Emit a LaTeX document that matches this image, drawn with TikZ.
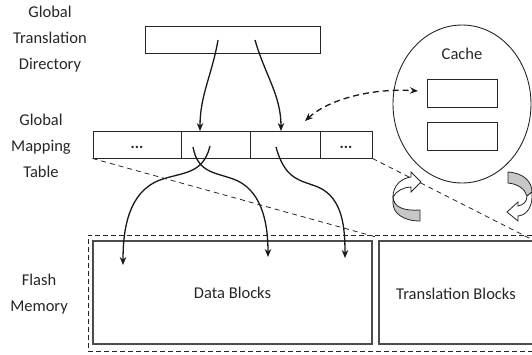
\documentclass[tikz,border=0pt]{standalone}
\usepackage{fontspec}
\setmainfont{Carlito}
\usetikzlibrary{arrows.meta,calc,shapes.geometric}
\begin{document}
\begin{tikzpicture}[x=1pt,y=-1pt,
  box/.style={draw=black!85,line width=0.9pt,inner sep=0pt},
  lbl/.style={align=center,font=\fontsize{16.5}{26}\selectfont,text=black!85},
  dots/.style={font=\bfseries\fontsize{16}{16}\selectfont,text=black!85},
  conn/.style={line width=1.3pt,black!90,-{Stealth[length=8pt,width=6.5pt]}},
  thindash/.style={line width=0.8pt,dash pattern=on 5pt off 4pt,black!85},
  ribbon/.style={draw=black!85,line width=0.8pt,fill=black!22},
  ribbonw/.style={draw=black!85,line width=0.8pt,fill=white}]
\clip (0,0) rectangle (532,354);
\useasboundingbox (0,0) rectangle (532,354);
% labels
\node[lbl] (l1) at (50,39) {Global\\Translation\\Directory};
\node[lbl] (l2) at (41,146) {Global\\Mapping\\Table};
\node[lbl] (l3) at (39,294.5) {Flash\\Memory};
% GTD
\node[box,minimum width=175pt,minimum height=27pt] (gtd) at (232.5,39.5) {};
% GMT cells
\node[box,minimum width=88pt,minimum height=27pt] (c1) at (137,144.5) {};
\node[box,minimum width=69pt,minimum height=27pt] (c2) at (215.5,144.5) {};
\node[box,minimum width=70pt,minimum height=27pt] (c3) at (285,144.5) {};
\node[box,minimum width=52pt,minimum height=27pt] (c4) at (346,144.5) {};
\node[dots] (d1) at ([yshift=-3pt]c1.center) {...};
\node[dots] (d4) at ([yshift=-3pt]c4.center) {...};
% cache
\node[draw=black!85,line width=0.9pt,ellipse,minimum width=138pt,minimum height=158pt,inner sep=0pt] (cache) at (462,104) {};
\node[lbl] (ct) at (462,54) {Cache};
\node[box,minimum width=70pt,minimum height=28pt] (r1) at (462,93) {};
\node[box,minimum width=70pt,minimum height=28pt] (r2) at (462,136) {};
% flash memory
\node[draw=black!85,line width=0.9pt,dash pattern=on 5pt off 3pt,minimum width=452pt,minimum height=116pt,inner sep=0pt] (fm) at (314,293) {};
\node[draw=black!70,line width=1.6pt,minimum width=279pt,minimum height=103pt,inner sep=0pt] (db) at (232.5,292.5) {};
\node[lbl] at (db) {Data Blocks};
\node[draw=black!70,line width=1.6pt,minimum width=170pt,minimum height=103pt,inner sep=0pt] (tb) at (464,292.5) {};
\node[lbl] at (456,294) {Translation Blocks};
% coordinates
\coordinate (s1) at (218,40);
\coordinate (s2) at (255,40);
\coordinate (e1) at (200,131);
\coordinate (e2) at (281,131);
\coordinate (a0) at (210,146);
\coordinate (b0) at (193,147);
\coordinate (cc0) at (276,147);
\coordinate (ta) at (123,265);
\coordinate (tb2) at (268,257);
\coordinate (tc) at (345,258);
\coordinate (dd0) at (305,121);
\coordinate (dd1) at (418,91);
% GTD arrows
\draw[conn] (s1) .. controls (212,75) and (200,95) .. (e1);
\draw[conn] (s2) .. controls (265,75) and (281,95) .. (e2);
% GMT -> data blocks
\draw[conn] (a0) .. controls (203,175) and (182,172) .. (160,180) .. controls (128,192) and (123,230) .. (ta);
\draw[conn] (b0) .. controls (198,175) and (218,172) .. (238,181) .. controls (264,194) and (268,228) .. (tb2);
\draw[conn] (cc0) .. controls (285,180) and (300,180) .. (318,187) .. controls (343,198) and (345,228) .. (tc);
% dashed double arrow
\draw[line width=1.3pt,dash pattern=on 6pt off 4pt,black!90,{Stealth[length=8pt,width=6.5pt]}-{Stealth[length=8pt,width=6.5pt]}] (dd0) .. controls (330,98) and (375,88) .. (dd1);
% thin dashed lines
\draw[thindash] (c1.south west) -- (376,237);
\draw[thindash] (c4.south east) -- (533,240);
% rotating arrows left
\draw[ribbon] (393,196) .. controls (393,208) and (405,211) .. (420,210) -- (420,221) .. controls (403,221) and (393,213) .. (393,203) -- cycle;
\draw[ribbonw] (393,197) .. controls (393,185) and (402,178) .. (411,177) -- (411,172) -- (421,182) -- (411,192) -- (411,187) .. controls (404,187) and (396,191) .. (393,197) -- cycle;
% rotating arrows right
\draw[ribbon] (508,172) .. controls (524,173) and (532,182) .. (532,192) -- (527,196) .. controls (525,189) and (518,184) .. (508,183) -- cycle;
\draw[ribbonw] (527,196) .. controls (527,202) and (523,205) .. (518,206) -- (518,202) -- (507,212) -- (518,221) -- (518,216) .. controls (528,215) and (533,205) .. (532,192) -- cycle;
\end{tikzpicture}
\end{document}
